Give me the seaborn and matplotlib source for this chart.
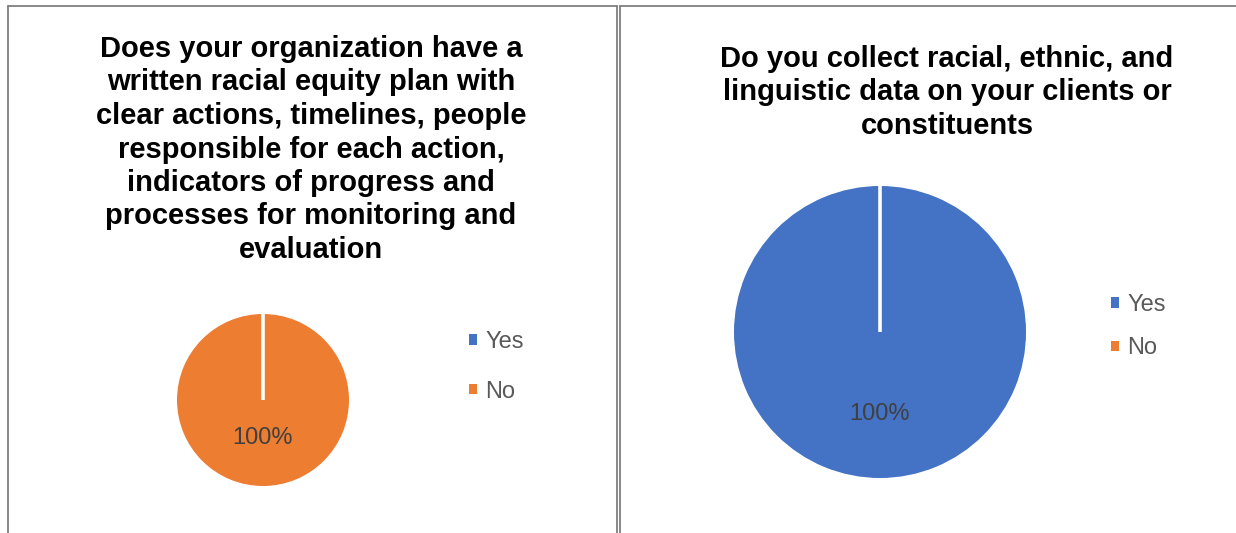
import matplotlib
matplotlib.use("Agg")
import numpy as np
import matplotlib.pyplot as plt
from matplotlib.patches import Patch
from matplotlib.lines import Line2D
import seaborn as sns

# Survey answers (share of respondents)
categories = ["Yes", "No"]
plan_values = [0, 100]
data_values = [100, 0]

plan_title = ("Does your organization have a\n"
              "written racial equity plan with\n"
              "clear actions, timelines, people\n"
              "responsible for each action,\n"
              "indicators of progress and\n"
              "processes for monitoring and\n"
              "evaluation")
data_title = ("Do you collect racial, ethnic, and\n"
              "linguistic data on your clients or\n"
              "constituents")

sns.set_theme(style="white")
plt.rcParams["font.family"] = ["Liberation Sans", "DejaVu Sans"]

colors = sns.color_palette(["#4472C4", "#ED7D31"])
TEXT_GRAY = "#595959"
W, H = 1236, 533
START = 90

fig = plt.figure(figsize=(W / 100, H / 100), dpi=100)
fig.patch.set_facecolor("white")


def fx(px):
    return px / W


def fy(py):
    return 1 - py / H


def panel_border(x0, x1, y0, y1):
    kw = dict(transform=fig.transFigure, color="#7f7f7f", lw=1.3)
    fig.add_artist(Line2D([fx(x0), fx(x0)], [fy(y0), fy(y1)], **kw))
    fig.add_artist(Line2D([fx(x0), fx(x1)], [fy(y0), fy(y0)], **kw))
    if x1 < W:
        fig.add_artist(Line2D([fx(x1), fx(x1)], [fy(y0), fy(y1)], **kw))


def draw_pie(values, cx, cy, r, pctdist):
    ax = fig.add_axes([fx(cx - r), fy(cy + r), r * 2 / W, r * 2 / H])
    ax.pie(values, colors=colors, startangle=START, counterclock=False,
           radius=1.0, pctdistance=pctdist,
           autopct=lambda p: f"{p:.0f}%" if p > 0 else "",
           textprops=dict(color="#404040", fontsize=17),
           wedgeprops=dict(linewidth=0))
    # white separators on the slice boundaries
    total = float(sum(values))
    bounds = START - 360 * np.cumsum([0] + list(values)) / total
    for ang in np.unique(np.round(bounds % 360, 6)):
        t = np.deg2rad(ang)
        ax.plot([0, np.cos(t)], [0, np.sin(t)], color="white", lw=2.6,
                solid_capstyle="butt")
    ax.set_xlim(-1, 1)
    ax.set_ylim(-1, 1)
    ax.axis("off")
    return ax


def draw_legend(x, y, spacing):
    handles = [Patch(facecolor=c, edgecolor="none") for c in colors]
    fig.legend(handles, categories, loc="upper left",
               bbox_to_anchor=(fx(x), fy(y)), bbox_transform=fig.transFigure,
               frameon=False, fontsize=17, labelcolor=TEXT_GRAY,
               handlelength=0.32, handleheight=0.28, handletextpad=0.36,
               labelspacing=spacing, borderpad=0, borderaxespad=0)


panel_border(7.5, 616.5, 5.5, 540)
panel_border(619.5, 1300, 5.5, 540)

fig.text(fx(311), fy(35), plan_title, ha="center", va="top",
         fontsize=21, fontweight="bold", color="black", linespacing=1.25)
fig.text(fx(947), fy(45), data_title, ha="center", va="top",
         fontsize=21, fontweight="bold", color="black", linespacing=1.25)

draw_pie(plan_values, 263, 400, 86, 0.44)
draw_pie(data_values, 880, 332, 146, 0.56)

draw_legend(469, 331, 1.17)
draw_legend(1111, 294, 0.9)

fig.savefig("out.png", dpi=100, facecolor="white")
